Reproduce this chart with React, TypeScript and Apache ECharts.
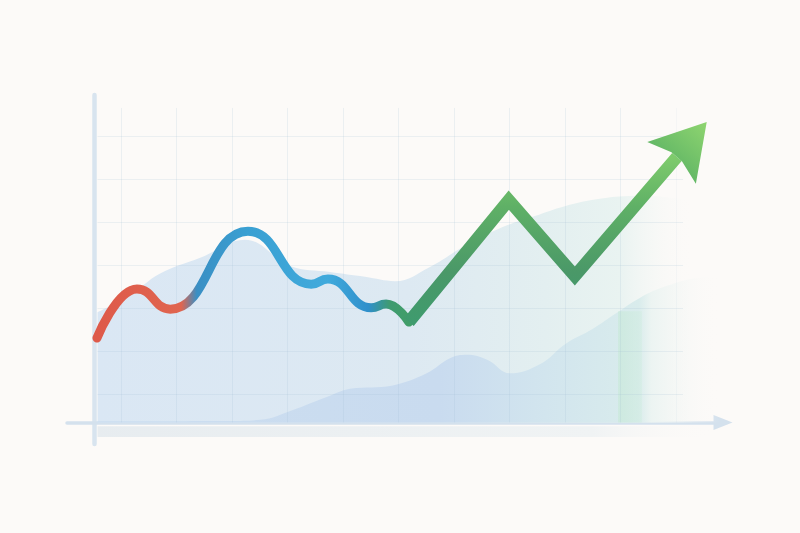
import { useEffect, useRef } from 'react';
import * as echarts from 'echarts';

// main trend: a wavy first half, then a straight zigzag that ends in an arrow
const WAVE_X = [0.04, 0.76, 1.36, 2.76, 3.9, 4.2, 4.98, 5.25, 5.66];
const WAVE_Y = [19.6, 31.0, 26.3, 44.4, 32.1, 33.3, 26.6, 27.5, 23.3];
const ZIGZAG_X = [5.66, 7.46, 8.65, 10.49];
const ZIGZAG_Y = [23.3, 51.6, 34.0, 61.6];
const ARROW_HEAD = [10.71, 65.0];

// soft background areas
const BACK_X = [0.05, 0.64, 1.17, 1.9, 2.71, 3.52, 4.24, 4.87, 5.41, 6.04, 6.67, 7.3, 7.93, 8.47, 9.1, 9.82, 10.54, 11.26];
const BACK_Y = [25.6, 29.6, 34.5, 38.2, 42.4, 36.3, 34.9, 33.8, 32.8, 36.1, 41.0, 45.1, 47.9, 50.2, 51.9, 52.6, 51.9, 50.5];
const FRONT_X = [0.05, 2.43, 2.98, 3.57, 4.18, 4.6, 5.37, 5.98, 6.4, 6.7, 7.08, 7.48, 8.02, 8.5, 8.97, 9.4, 9.82, 10.31, 10.9, 11.26];
const FRONT_Y = [0.3, 0.35, 0.6, 2.9, 5.9, 7.8, 8.6, 11.4, 14.9, 15.7, 14.5, 11.4, 13.5, 18.4, 21.7, 25.4, 28.9, 31.7, 33.6, 33.8];

// light highlight column and the shadow under the x axis
const HIGHLIGHT_X = [9.43, 9.86];
const HIGHLIGHT_TOP = 25.8;
const SHADOW_X = [0.05, 11.2];
const SHADOW_Y = [-0.9, -3.4];

const GRID_X = [0.47, 1.47, 2.47, 3.47, 4.47, 5.47, 6.47, 7.47, 8.47, 9.47, 10.47];
const GRID_Y = [6.5, 16.5, 26.5, 36.5, 46.5, 56.5, 66.5];
const GRID_TOP = 73;
const GRID_RIGHT = 10.6;

const zip = (xs: number[], ys: number[]) => xs.map((x, i) => [x, ys[i]]);

export default function App() {
  const chartRef = useRef<HTMLDivElement>(null);

  useEffect(() => {
    if (!chartRef.current) return;
    const chart = echarts.init(chartRef.current, undefined, { renderer: 'svg' });

    const gridLine = 'rgba(160,188,212,0.18)';
    const gridLines: any[] = [
      ...GRID_X.map((x, i) => [
        { coord: [x, 0], lineStyle: { color: gridLine, opacity: i > 9 ? 0.4 : 1 } },
        { coord: [x, GRID_TOP] },
      ]),
      ...GRID_Y.map((y) => [{ coord: [0.05, y] }, { coord: [GRID_RIGHT, y] }]),
    ];

    const option: echarts.EChartsOption = {
      animation: false,
      backgroundColor: '#fcfaf8',
      grid: { left: 67, right: 77, top: 95, bottom: 89 },
      xAxis: {
        type: 'value',
        min: -0.5,
        max: 11.32,
        axisLine: {
          show: true,
          onZero: true,
          symbol: ['none', 'triangle'],
          symbolSize: [15, 19],
          lineStyle: { color: '#d4e1ed', width: 3.5 },
        },
        axisTick: { show: false },
        axisLabel: { show: false },
        splitLine: { show: false },
      },
      yAxis: {
        type: 'value',
        min: -5,
        max: 76,
        axisLine: { show: true, lineStyle: { color: '#d8e4ef', width: 4.5 } },
        axisTick: { show: false },
        axisLabel: { show: false },
        splitLine: { show: false },
      },
      series: [
        {
          type: 'line',
          z: 1,
          silent: true,
          data: zip(BACK_X, BACK_Y),
          smooth: 0.4,
          symbol: 'none',
          lineStyle: { width: 0 },
          areaStyle: {
            opacity: 1,
            color: new echarts.graphic.LinearGradient(0, 0, 1, 0, [
              { offset: 0, color: '#dae7f4' },
              { offset: 0.5, color: '#dde9f2' },
              { offset: 0.72, color: '#e3eff0' },
              { offset: 0.84, color: '#e9f3f1' },
              { offset: 0.96, color: 'rgba(252,250,248,0)' },
            ]),
          },
          markLine: {
            z: 4,
            silent: true,
            symbol: 'none',
            label: { show: false },
            lineStyle: { color: gridLine, width: 1, type: 'solid' },
            data: gridLines,
          },
        },
        {
          type: 'line',
          z: 2,
          silent: true,
          data: zip(FRONT_X, FRONT_Y),
          smooth: 0.4,
          symbol: 'none',
          lineStyle: { width: 0 },
          areaStyle: {
            opacity: 1,
            color: new echarts.graphic.LinearGradient(0, 0, 1, 0, [
              { offset: 0, color: '#ccdef0' },
              { offset: 0.55, color: '#c9dbef' },
              { offset: 0.72, color: '#d2e5ee' },
              { offset: 0.87, color: '#d9ecec' },
              { offset: 0.89, color: '#ecf4f2' },
              { offset: 1, color: 'rgba(252,250,248,0)' },
            ]),
          },
          markArea: {
            z: 3,
            silent: true,
            data: [
              [
                {
                  coord: [HIGHLIGHT_X[0], 0],
                  itemStyle: {
                    color: new echarts.graphic.LinearGradient(0, 0, 1, 0, [
                      { offset: 0, color: 'rgba(196,232,212,0.55)' },
                      { offset: 1, color: 'rgba(205,236,220,0.35)' },
                    ]),
                  },
                },
                { coord: [HIGHLIGHT_X[1], HIGHLIGHT_TOP] },
              ],
              [
                {
                  coord: [SHADOW_X[0], SHADOW_Y[0]],
                  itemStyle: {
                    color: new echarts.graphic.LinearGradient(0, 0, 1, 0, [
                      { offset: 0, color: 'rgba(222,230,236,0.7)' },
                      { offset: 0.8, color: 'rgba(228,236,240,0.5)' },
                      { offset: 1, color: 'rgba(252,250,248,0)' },
                    ]),
                  },
                },
                { coord: [SHADOW_X[1], SHADOW_Y[1]] },
              ],
            ],
          },
        },
        {
          type: 'line',
          z: 5,
          silent: true,
          data: zip(WAVE_X, WAVE_Y),
          smooth: 0.5,
          smoothMonotone: 'x',
          symbol: 'none',
          lineStyle: {
            width: 9,
            cap: 'round',
            join: 'round',
            color: new echarts.graphic.LinearGradient(0, 0, 1, 0, [
              { offset: 0, color: '#de5a4a' },
              { offset: 0.27, color: '#e0654f' },
              { offset: 0.32, color: '#3a8fc4' },
              { offset: 0.48, color: '#3aa0d2' },
              { offset: 0.74, color: '#40aadc' },
              { offset: 0.87, color: '#2f8fcb' },
              { offset: 0.94, color: '#3f9b70' },
              { offset: 1, color: '#419e68' },
            ]),
          },
        },
        {
          type: 'line',
          z: 5,
          silent: true,
          data: zip(ZIGZAG_X, ZIGZAG_Y),
          symbol: 'none',
          lineStyle: {
            width: 12.5,
            cap: 'butt',
            join: 'miter',
            color: new echarts.graphic.LinearGradient(0, 0, 0, 1, [
              { offset: 0, color: '#7ecb6c' },
              { offset: 0.3, color: '#5fb066' },
              { offset: 0.7, color: '#4a9868' },
              { offset: 1, color: '#3f9b6e' },
            ]),
          },
        },
        {
          type: 'scatter',
          z: 6,
          silent: true,
          data: [ARROW_HEAD],
          symbol: 'path://M32,0 L64,54 L39,46 L25,46 L0,54 Z',
          symbolSize: [64, 54],
          symbolRotate: -40.6,
          itemStyle: {
            opacity: 1,
            color: new echarts.graphic.LinearGradient(0, 0, 0, 1, [
              { offset: 0, color: '#8fd570' },
              { offset: 1, color: '#64b866' },
            ]),
          },
        },
      ],
    };

    chart.setOption(option);
    return () => chart.dispose();
  }, []);

  return (
    <div
      ref={chartRef}
      style={{ position: 'fixed', left: 0, top: 0, width: 800, height: 533 }}
    />
  );
}
